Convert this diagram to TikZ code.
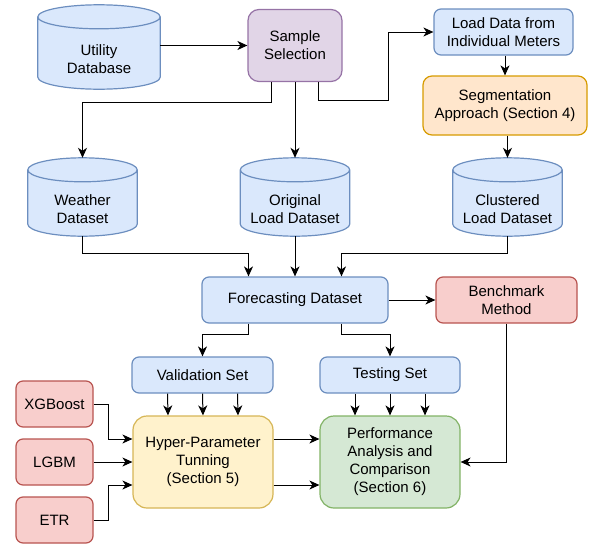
\documentclass[tikz,border=0pt]{standalone}
\usepackage{fontspec}
\setmainfont{Liberation Sans}
\usetikzlibrary{positioning, calc, arrows.meta}

\definecolor{blueFill}{HTML}{DAE8FC}
\definecolor{blueLine}{HTML}{6C8EBF}
\definecolor{purpleFill}{HTML}{E1D5E7}
\definecolor{purpleLine}{HTML}{9673A6}
\definecolor{orangeFill}{HTML}{FFE6CC}
\definecolor{orangeLine}{HTML}{D79B00}
\definecolor{redFill}{HTML}{F8CECC}
\definecolor{redLine}{HTML}{B85450}
\definecolor{yellowFill}{HTML}{FFF2CC}
\definecolor{yellowLine}{HTML}{D6B656}
\definecolor{greenFill}{HTML}{D5E8D4}
\definecolor{greenLine}{HTML}{82B366}

\tikzset{
  box/.style={draw, rounded corners=7pt, line width=1.2pt, align=center, inner sep=0pt},
  bluebox/.style={box, fill=blueFill, draw=blueLine},
  redbox/.style={box, fill=redFill, draw=redLine},
  dbase/.style={minimum width=109pt, minimum height=78pt, inner sep=0pt},
  dbtext/.style={align=center},
  link/.style={-{Stealth[length=10pt,width=9pt,inset=3pt]}, line width=1pt},
}

% cylinder outline round an empty node
\newcommand{\drumshape}[1]{%
  \path[fill=blueFill, draw=blueLine, line width=1.2pt]
    let \p1=(#1.north west), \p2=(#1.south east), \n1={(\x2-\x1)/2} in
    (\x1,\y1-12pt) -- (\x1,\y2+12pt)
      arc[start angle=180, end angle=360, x radius=\n1, y radius=12pt]
    -- (\x2,\y1-12pt)
      arc[start angle=0, end angle=180, x radius=\n1, y radius=12pt] -- cycle
    (\x1,\y1-12pt) arc[start angle=180, end angle=360, x radius=\n1, y radius=12pt];
}

\begin{document}
\begin{tikzpicture}[x=1pt, y=-1pt, font=\fontsize{15}{18}\selectfont]
  \useasboundingbox (0,0) rectangle (592,544);

  \node[dbase, minimum width=122pt, minimum height=84pt] (util) at (99,47) {};
  \node[dbase] (weather) at (82.5,197) {};
  \node[dbase] (original) at (295,197) {};
  \node[dbase] (clustered) at (507.5,197) {};
  \drumshape{util}
  \drumshape{weather}
  \drumshape{original}
  \drumshape{clustered}
  \node[dbtext] (utiltext) at ([yshift=-12pt]util.center) {Utility\\Database};
  \node[dbtext] (weathertext) at ([yshift=-12pt]weather.center) {Weather\\Dataset};
  \node[dbtext] (originaltext) at ([yshift=-12pt]original.center) {Original\\Load Dataset};
  \node[dbtext] (clusteredtext) at ([yshift=-12pt]clustered.center) {Clustered\\Load Dataset};

  \node[box, fill=purpleFill, draw=purpleLine, minimum width=94pt, minimum height=72pt,
        rounded corners=11pt] (sample) at (295,45.5) {Sample\\Selection};
  \node[bluebox, minimum width=139pt, minimum height=46pt] (meters) at (503.5,32)
        {Load Data from\\Individual Meters};
  \node[box, fill=orangeFill, draw=orangeLine, minimum width=164pt, minimum height=59pt,
        rounded corners=9pt] (segment) at (505,105.5) {Segmentation\\Approach (Section 4)};

  \node[bluebox, minimum width=186pt, minimum height=46pt] (forecast) at (295,300)
        {Forecasting Dataset};
  \node[redbox, minimum width=141pt, minimum height=46pt] (bench) at (506.5,300)
        {Benchmark\\Method};
  \node[bluebox, minimum width=141pt, minimum height=36pt] (valid) at (202.5,375)
        {Validation Set};
  \node[bluebox, minimum width=140pt, minimum height=36pt] (testing) at (390,375)
        {Testing Set};
  \node[box, fill=yellowFill, draw=yellowLine, minimum width=140pt, minimum height=92pt,
        rounded corners=14pt] (hyper) at (203,462) {Hyper-Parameter\\Tunning\\(Section 5)};
  \node[box, fill=greenFill, draw=greenLine, minimum width=140pt, minimum height=92pt,
        rounded corners=14pt] (perf) at (390,462)
        {Performance\\Analysis and\\Comparison\\(Section 6)};
  \node[redbox, minimum width=77pt, minimum height=46pt] (xgb) at (54.5,404) {XGBoost};
  \node[redbox, minimum width=77pt, minimum height=46pt] (lgbm) at (54.5,462) {LGBM};
  \node[redbox, minimum width=77pt, minimum height=46pt] (etr) at (54.5,520) {ETR};

  \draw[link] (util.east |- sample.west) -- (sample.west);
  \draw[link] ([xshift=-23.5pt]sample.south) -- ++(0,20) -| (weather.north);
  \draw[link] (sample.south) -- (original.north);
  \draw[link] ([xshift=23.5pt]sample.south) -- ++(0,18) -- ++(70,0) |- (meters.west);
  \draw[link] (segment.north |- meters.south) -- (segment.north);
  \draw[link] (clustered.north |- segment.south) -- (clustered.north);

  \draw[link] (weather.south) -- ++(0,17) -| ([xshift=-46.5pt]forecast.north);
  \draw[link] (original.south) -- (forecast.north);
  \draw[link] (clustered.south) -- ++(0,17) -| ([xshift=46.5pt]forecast.north);
  \draw[link] (forecast.east) -- (bench.west);
  \draw[link] ([xshift=-46.5pt]forecast.south) -- ++(0,11) -| (valid.north);
  \draw[link] ([xshift=46.5pt]forecast.south) -- ++(0,11) -| (testing.north);

  \foreach \dx in {-35,0,35} {
    \draw[link] ([xshift=\dx pt]valid.south) -- ([xshift=\dx pt]hyper.north);
    \draw[link] ([xshift=\dx pt]testing.south) -- ([xshift=\dx pt]perf.north);
  }

  \draw[link] (xgb.east) -- ++(15,0) |- ([yshift=23pt]hyper.west);
  \draw[link] (lgbm.east) -- (hyper.west);
  \draw[link] (etr.east) -- ++(15,0) |- ([yshift=-23pt]hyper.west);
  \draw[link] ([yshift=23pt]hyper.east) -- ([yshift=23pt]perf.west);
  \draw[link] ([yshift=-23pt]hyper.east) -- ([yshift=-23pt]perf.west);
  \draw[link] (bench.south) |- (perf.east);
\end{tikzpicture}
\end{document}
